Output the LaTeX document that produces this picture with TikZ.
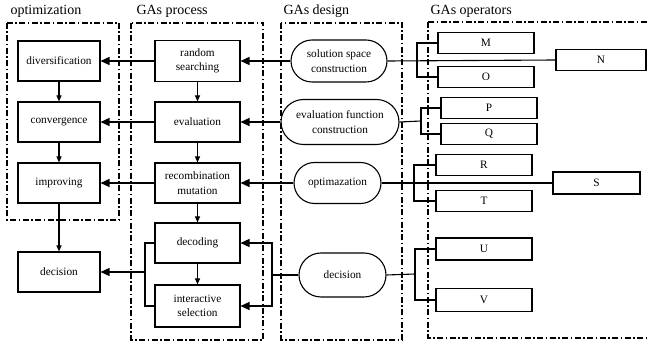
\documentclass[tikz,border=0pt]{standalone}
\usepackage{fontspec}
\setmainfont{Liberation Serif}
\usetikzlibrary{shapes.misc,arrows.meta,calc}
\begin{document}
\begin{tikzpicture}[x=1pt,y=-1pt,
  box/.style={draw,line width=1.1pt,rectangle,inner sep=1pt,align=center,font=\fontsize{11.3}{14.5}\selectfont},
  opbox/.style={draw,line width=1.1pt,rectangle,inner sep=1pt,minimum height=21pt,font=\fontsize{11.3}{14}\selectfont},
  stad/.style={draw,line width=1.1pt,rounded rectangle,inner sep=1pt,align=center,font=\fontsize{11.3}{14.5}\selectfont},
  grp/.style={line width=1.3pt,dash pattern=on 6pt off 2.5pt on 1.5pt off 2.5pt},
  title/.style={font=\fontsize{14}{16}\selectfont,anchor=west},
  arr/.style={line width=1.5pt,-{Triangle[length=9pt,width=8pt]}},
  varr/.style={line width=1.1pt,-{Triangle[length=6pt,width=5pt]}},
  conn/.style={line width=1.1pt},
]
\useasboundingbox (0,0) rectangle (649,344);
% group frames
\draw[grp] (7,23) rectangle (119,220);
\draw[grp] (131,23) rectangle (263,340);
\draw[grp] (281,23) rectangle (402,340);
\draw[grp] (428,22) -- (655,22) (428,22) -- (428,338) -- (655,338);
% titles
\node[title] (t1) at (7,11) {optimization};
\node[title] (t2) at (133,11) {GAs process};
\node[title] (t3) at (280,11) {GAs design};
\node[title] (t4) at (427,11) {GAs operators};
% optimization column
\node[box,minimum width=82pt,minimum height=40pt] (div) at (59,61) {diversification};
\node[box,minimum width=82pt,minimum height=40pt] (conv) at (59,122) {convergence};
\node[box,minimum width=82pt,minimum height=40pt] (imp) at (59,183) {improving};
\node[box,minimum width=82pt,minimum height=40pt] (odec) at (59,272) {decision};
% process column
\node[box,minimum width=85pt,minimum height=41pt] (rs) at (197.5,61) {random\\searching};
\node[box,minimum width=85pt,minimum height=40pt] (ev) at (197.5,122) {evaluation};
\node[box,minimum width=85pt,minimum height=40pt] (rm) at (197.5,183) {recombination\\mutation};
\node[box,minimum width=85pt,minimum height=40pt] (dcd) at (197.5,243) {decoding};
\node[box,minimum width=85pt,minimum height=42pt] (is) at (197.5,306) {interactive\\selection};
% design column
\node[stad,minimum width=98pt,minimum height=42pt] (ssc) at (339,61) {solution space\\construction};
\node[stad,minimum width=120pt,minimum height=45pt] (efc) at (340,122) {evaluation function\\construction};
\node[stad,minimum width=89pt,minimum height=41pt] (opt) at (337.5,183) {optimazation};
\node[stad,minimum width=89pt,minimum height=44pt] (dsd) at (342.5,275) {decision};
% operators
\node[opbox,minimum width=96pt] (M) at (486,43) {M};
\node[opbox,minimum width=96pt] (O) at (486,77) {O};
\node[opbox,minimum width=90pt] (N) at (601,60) {N};
\node[opbox,minimum width=96pt] (P) at (489,108) {P};
\node[opbox,minimum width=96pt] (Q) at (489,134) {Q};
\node[opbox,minimum width=96pt] (R) at (484,165) {R};
\node[opbox,minimum width=96pt] (T) at (484,201) {T};
\node[opbox,minimum width=87pt,minimum height=22pt] (S) at (596.5,183) {S};
\node[opbox,minimum width=96pt,minimum height=22pt] (U) at (484,249) {U};
\node[opbox,minimum width=96pt,minimum height=23pt] (V) at (484,300) {V};
% vertical arrows
\draw[varr] (div) -- (conv);
\draw[varr] (conv) -- (imp);
\draw[varr] (imp) -- (odec);
\draw[varr] (rs) -- (ev);
\draw[varr] (ev) -- (rm);
\draw[varr] (rm) -- (dcd);
\draw[varr] (dcd) -- (is);
% process -> optimization
\draw[arr] (rs.west) -- (div.east);
\draw[arr] (ev.west) -- (conv.east);
\draw[arr] (rm.west) -- (imp.east);
\coordinate (lb) at (145,272);
\draw[conn,line width=1.5pt] (dcd.west) -| (lb) |- (is.west);
\draw[arr] (lb) -- (odec.east);
% design -> process
\draw[arr] (ssc.west) -- (rs.east);
\draw[arr] (efc.west) -- (ev.east);
\draw[arr] (opt.west) -- (rm.east);
\coordinate (rb) at (272,275);
\draw[conn,line width=1.5pt] (dsd.west) -- (rb);
\draw[arr] (rb) |- (dcd.east);
\draw[arr] (rb) |- (is.east);
% design -> operators
\draw[conn] (ssc.east) -- (N.west);
\coordinate (bm) at (417,60);
\draw[conn] (M.west) -| (bm) |- (O.west);
\coordinate (bp) at (421,121);
\draw[conn] (efc.east) -- (bp);
\draw[conn] (P.west) -| (bp) |- (Q.west);
\draw[conn] (opt.east) -- (S.west);
\coordinate (br) at (414,183);
\draw[conn] (R.west) -| (br) |- (T.west);
\coordinate (bu) at (415,274);
\draw[conn] (dsd.east) -- (bu);
\draw[conn] (U.west) -| (bu) |- (V.west);
\end{tikzpicture}
\end{document}
